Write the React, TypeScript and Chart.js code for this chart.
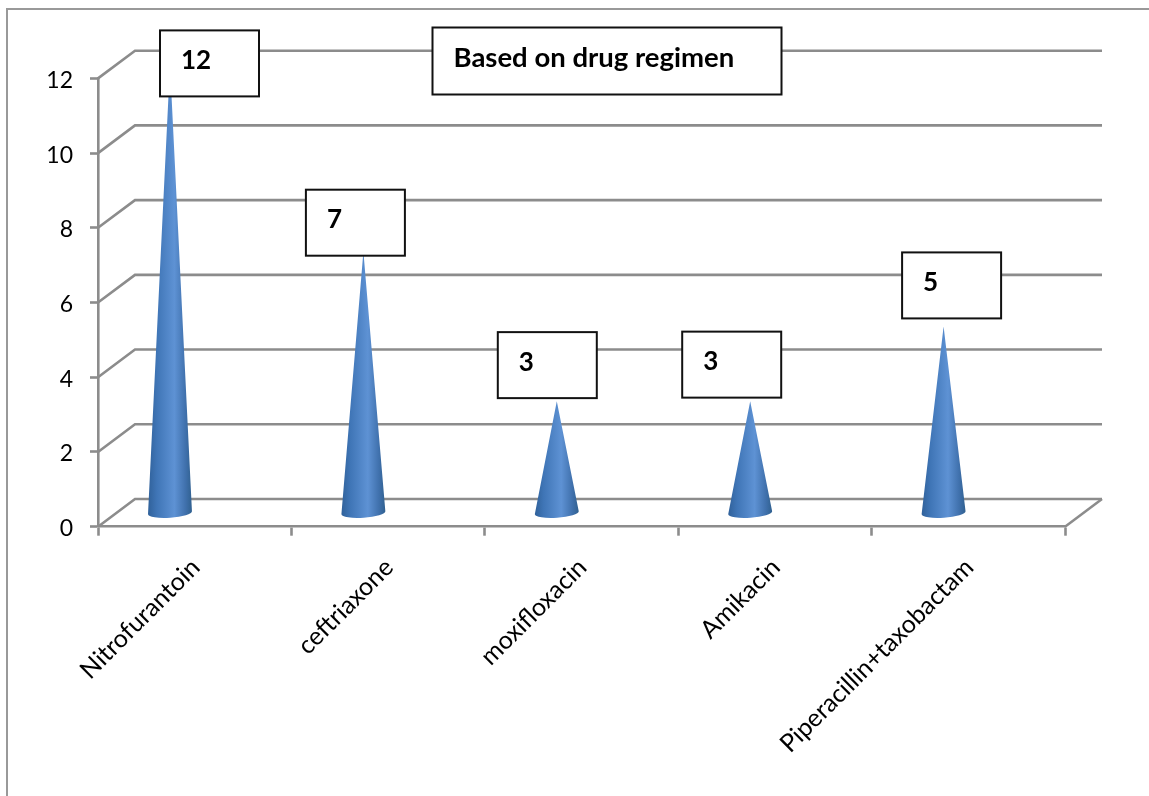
import React, { useEffect, useRef } from "react";
import { Chart, registerables } from "chart.js";

Chart.register(...registerables);

const drugs = ["Nitrofurantoin", "ceftriaxone", "moxifloxacin", "Amikacin", "Piperacillin+taxobactam"];
const patientCounts = [12, 7, 3, 3, 5];
const heading = "Based on drug regimen";

const WIDTH = 1149;
const HEIGHT = 796;
const GRID_GRAY = "#8c8c8c";
const FONT = "Lato, 'Open Sans', sans-serif";

// Oblique projection of the chart's floor and back wall.
const DEPTH_X = 37;
const DEPTH_Y = 27.7;
const CONE_SHIFT = -24.7;
const CONE_RADIUS = 22;

// Top-left corner of each value callout, relative to its cone's tip.
const calloutOffsets = [
  [-10, -34.5],
  [-57.5, -62],
  [-59, -69],
  [-68, -69.5],
  [-41.5, -74],
];
const CALLOUT_W = 99;
const CALLOUT_H = 66;

function drawBox(
  ctx: CanvasRenderingContext2D,
  x: number,
  y: number,
  w: number,
  h: number,
  text: string,
  fontSize: number
) {
  ctx.save();
  ctx.fillStyle = "#ffffff";
  ctx.strokeStyle = "#111111";
  ctx.lineWidth = 2;
  ctx.fillRect(x, y, w, h);
  ctx.strokeRect(x, y, w, h);
  ctx.fillStyle = "#000000";
  ctx.font = `bold ${fontSize}px ${FONT}`;
  ctx.textAlign = "left";
  ctx.textBaseline = "middle";
  ctx.fillText(text, x + 21, y + h / 2 - 3);
  ctx.restore();
}

const obliquePlugin = {
  id: "obliqueWalls",
  beforeDraw(chart: any) {
    const { ctx, chartArea, scales } = chart;
    const { left, right } = chartArea;
    ctx.save();
    // page frame, open on the right and at the bottom
    ctx.strokeStyle = "#999999";
    ctx.lineWidth = 2;
    ctx.beginPath();
    ctx.moveTo(7, HEIGHT);
    ctx.lineTo(7, 9);
    ctx.lineTo(WIDTH, 9);
    ctx.stroke();

    ctx.strokeStyle = GRID_GRAY;
    ctx.lineWidth = 2.6;
    for (const tick of scales.y.ticks) {
      const y = scales.y.getPixelForValue(tick.value);
      ctx.beginPath();
      ctx.moveTo(left, y);
      ctx.lineTo(left + DEPTH_X, y - DEPTH_Y);
      ctx.lineTo(right + DEPTH_X, y - DEPTH_Y);
      ctx.stroke();
    }
    const floorY = scales.y.getPixelForValue(0);
    ctx.beginPath();
    ctx.moveTo(right, floorY);
    ctx.lineTo(right + DEPTH_X, floorY - DEPTH_Y);
    ctx.stroke();
    ctx.restore();
  },
  afterDatasetsDraw(chart: any) {
    const { ctx } = chart;
    const bars = chart.getDatasetMeta(0).data;
    bars.forEach((bar: any) => {
      const cx = bar.x + CONE_SHIFT;
      const tipY = bar.y - 13.5;
      const baseY = bar.base - 13.5;
      const gradient = ctx.createLinearGradient(cx - CONE_RADIUS, 0, cx + CONE_RADIUS, 0);
      gradient.addColorStop(0, "#30619a");
      gradient.addColorStop(0.2, "#3f75b6");
      gradient.addColorStop(0.6, "#5e92d4");
      gradient.addColorStop(0.85, "#4071ad");
      gradient.addColorStop(1, "#30608f");
      ctx.save();
      ctx.fillStyle = gradient;
      ctx.beginPath();
      ctx.moveTo(cx, tipY);
      ctx.lineTo(cx - CONE_RADIUS, baseY + 1.5);
      ctx.ellipse(cx, baseY, CONE_RADIUS, 5, -0.07, Math.PI, 0, true);
      ctx.closePath();
      ctx.fill();
      ctx.restore();
    });
    bars.forEach((bar: any, i: number) => {
      const cx = bar.x + CONE_SHIFT;
      const tipY = bar.y - 13.5;
      const [dx, dy] = calloutOffsets[i];
      drawBox(ctx, cx + dx, tipY + dy, CALLOUT_W, CALLOUT_H, String(patientCounts[i]), 26);
    });
    drawBox(ctx, 432.5, 27.5, 349, 67, heading, 27.5);
  },
};

export default function App() {
  const canvasRef = useRef<HTMLCanvasElement>(null);

  useEffect(() => {
    document.body.style.margin = "0";
    document.body.style.background = "#ffffff";
    const chart = new Chart(canvasRef.current!, {
      type: "bar",
      data: {
        labels: drugs,
        datasets: [{ data: patientCounts, backgroundColor: "rgba(0,0,0,0)", borderWidth: 0 }],
      },
      options: {
        animation: false,
        responsive: false,
        layout: { padding: { top: 78.4, right: 84, left: 0, bottom: 0 } },
        plugins: { legend: { display: false }, tooltip: { enabled: false } },
        scales: {
          x: {
            afterFit(scale: any) {
              scale.height = 269.3;
            },
            grid: {
              offset: true,
              drawOnChartArea: false,
              tickLength: 9,
              tickColor: GRID_GRAY,
              tickWidth: 2.6,
            },
            border: { color: GRID_GRAY, width: 2.6 },
            ticks: {
              color: "#000000",
              font: { family: FONT, size: 25 },
              minRotation: 45,
              maxRotation: 45,
              padding: 17,
              labelOffset: 1,
            },
          },
          y: {
            min: 0,
            max: 12,
            afterFit(scale: any) {
              scale.width = 98;
            },
            grid: {
              drawOnChartArea: false,
              tickLength: 8,
              tickColor: GRID_GRAY,
              tickWidth: 2.6,
            },
            border: { color: GRID_GRAY, width: 2.6 },
            ticks: {
              stepSize: 2,
              color: "#000000",
              font: { family: FONT, size: 23 },
              padding: 17,
              labelOffset: 2,
            },
          },
        },
      },
      plugins: [obliquePlugin],
    });
    return () => chart.destroy();
  }, []);

  return <canvas ref={canvasRef} width={WIDTH} height={HEIGHT} style={{ display: "block" }} />;
}
